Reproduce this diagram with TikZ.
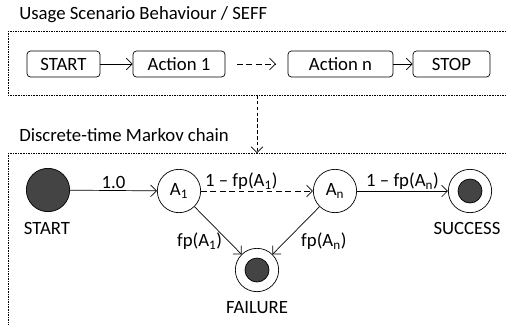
\documentclass[tikz,border=0pt]{standalone}
\usepackage{fontspec}
\setmainfont{Carlito}
\usetikzlibrary{arrows.meta,positioning}

\definecolor{darkfill}{RGB}{68,68,68}

\tikzset{
  box/.style={draw, semithick, rounded corners=3pt, minimum height=0.78cm, inner sep=2pt},
  frame/.style={draw, densely dotted, thin},
  state/.style={circle, draw, semithick, fill=white, minimum size=1.3cm, inner sep=0pt},
  initstate/.style={state, fill=darkfill},
  finalstate/.style={state, path picture={
      \draw[fill=darkfill] (path picture bounding box.center) circle (0.36cm);}},
  lbl/.style={inner sep=1pt},
  dashline/.style={dash pattern=on 5pt off 3pt}
}

\begin{document}
\begin{tikzpicture}[x=0.03cm, y=-0.03cm, font=\fontsize{16}{19}\selectfont,
  >={Straight Barb[length=5pt,width=10pt]}, semithick]
\useasboundingbox (0,0) rectangle (506,324);

% usage scenario / SEFF
\node[anchor=west] (seff) at (15,15) {Usage Scenario Behaviour / SEFF};
\draw[frame] (8,31) rectangle (520,95);
\node[box, minimum width=2.19cm] (start) at (63.5,64) {START};
\node[box, minimum width=2.76cm] (act1) at (179,64) {Action 1};
\node[box, minimum width=3.15cm] (actn) at (340.5,64) {Action n};
\node[box, minimum width=2.31cm] (stop) at (451.5,64) {STOP};
\draw[->] (start) -- (act1);
\draw[->, dashline, shorten <=10pt, shorten >=10pt] (act1) -- (actn);
\draw[->] (actn) -- (stop);

% transformation
\coordinate (up) at (257,95);
\coordinate (down) at (257,153);
\draw[->, densely dashed] (up) -- (down);

% markov chain
\node[anchor=west] (dtmc) at (15,135) {Discrete-time Markov chain};
\draw[frame] (8,153) rectangle (520,340);

\node[initstate] (s) at (48,190) {};
\node[state] (a1) at (179,191) {A\textsubscript{1}};
\node[state] (an) at (335,191) {A\textsubscript{n}};
\node[finalstate] (succ) at (470,191) {};
\node[finalstate] (fail) at (257,270) {};

\node (slbl) at (47,228) {START};
\node (succlbl) at (467,228) {SUCCESS};
\node (faillbl) at (257,308) {FAILURE};

\draw[->] (s) -- node[lbl, above] {1.0} (a1);
\draw[->, dashline] (a1) -- node[lbl, above, pos=0.36] {1 – fp(A\textsubscript{1})} (an);
\draw[->] (an) -- node[lbl, above] {1 – fp(A\textsubscript{n})} (succ);
\draw[->] (a1) -- node[lbl, pos=0.72, left=4pt] {fp(A\textsubscript{1})} (fail);
\draw[->] (an) -- node[lbl, pos=0.72, right=12pt] {fp(A\textsubscript{n})} (fail);
\end{tikzpicture}
\end{document}
